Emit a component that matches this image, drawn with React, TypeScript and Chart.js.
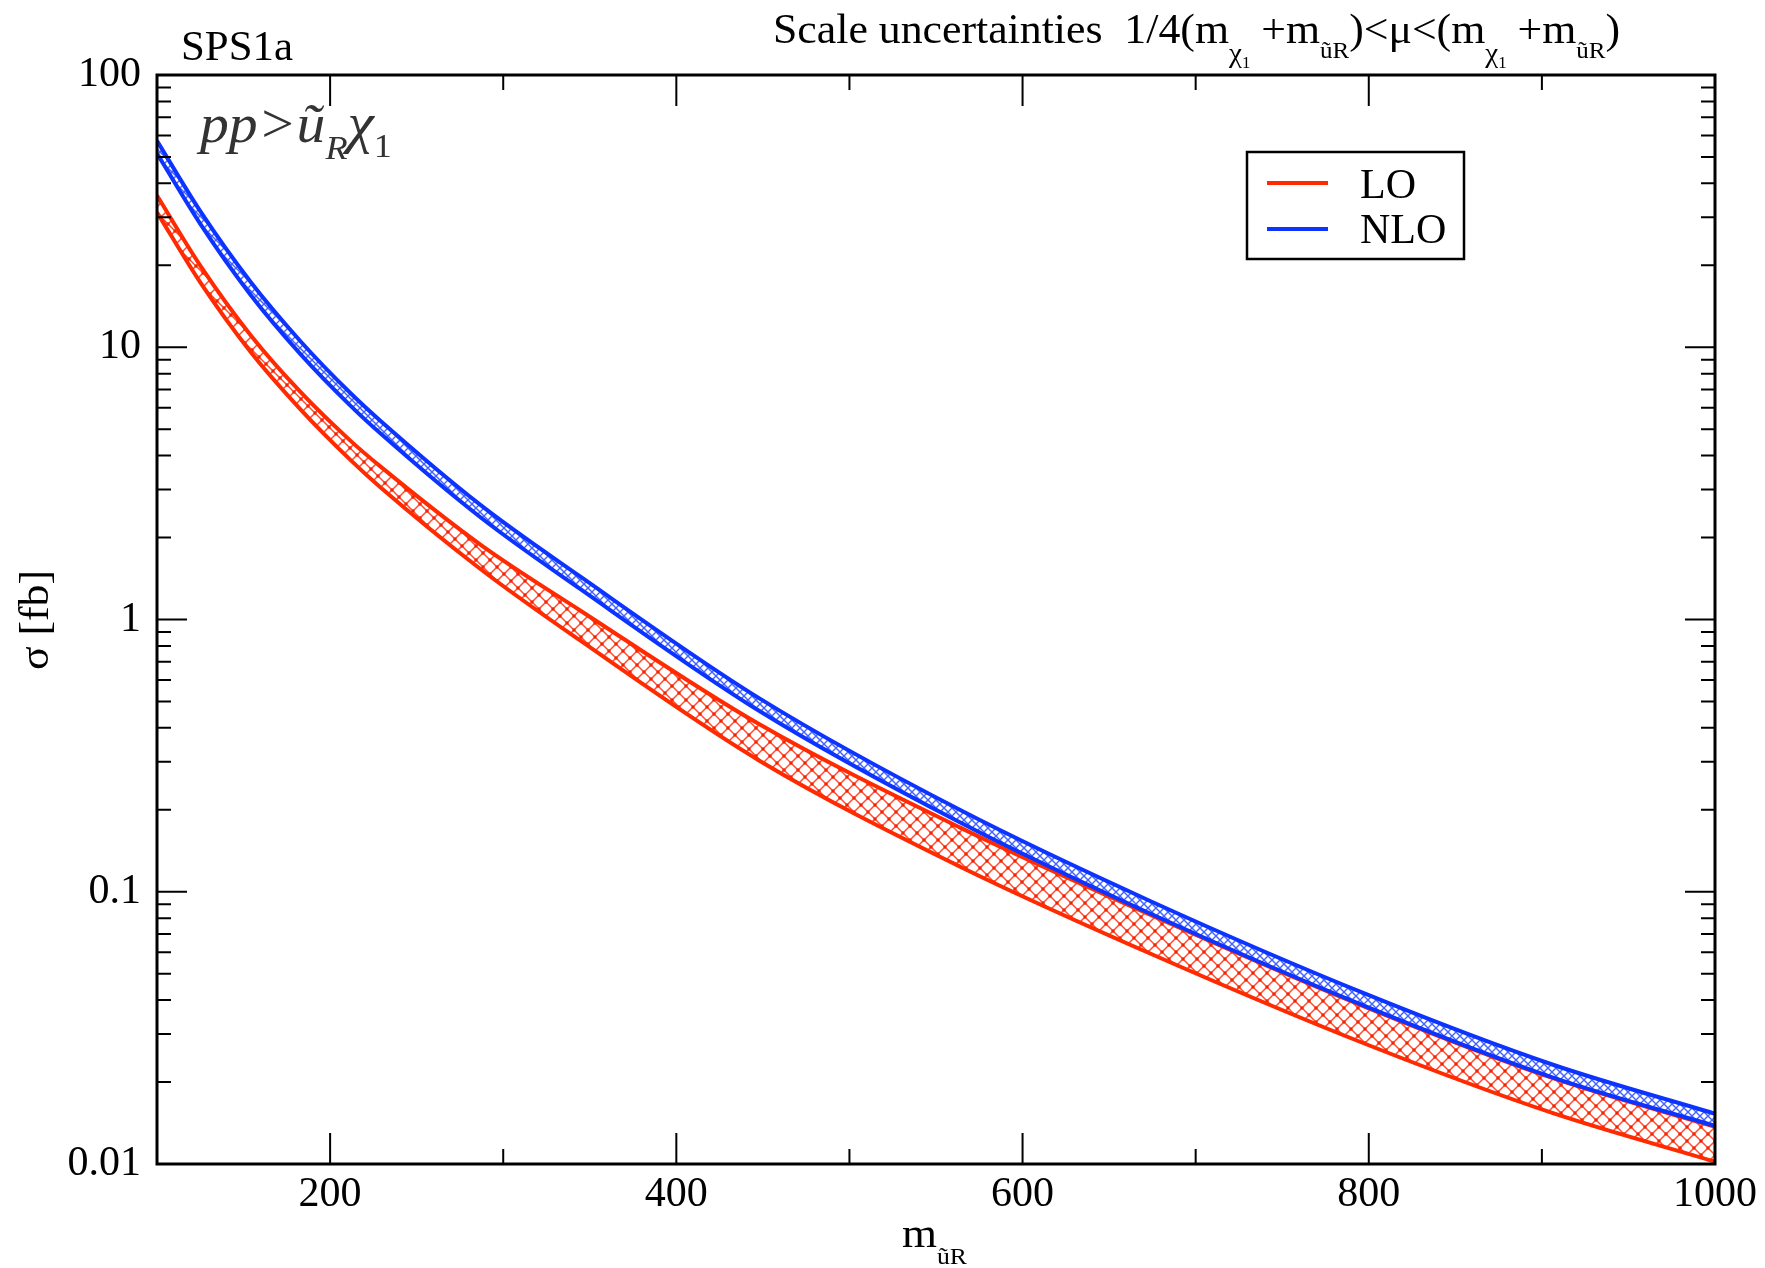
import React, { useEffect, useRef } from "react";
import { Chart, registerables } from "chart.js";

Chart.register(...registerables);

// ---- data ----
const massGeV = [100, 125, 154, 183, 212, 229, 287, 344, 448, 564, 674, 800, 906, 1000];
const nloUpper = [57.3, 31.6, 17.4, 10.5, 6.76, 5.37, 2.63, 1.445, 0.513, 0.1995, 0.0923, 0.0417, 0.0232, 0.0153];
const nloLower = [51.5, 28.4, 15.6, 9.42, 6.08, 4.83, 2.37, 1.3, 0.461, 0.1795, 0.083, 0.0375, 0.0208, 0.0138];
const loUpper = [36.1, 19.95, 11.1, 6.84, 4.52, 3.65, 1.88, 1.084, 0.412, 0.172, 0.0822, 0.0373, 0.0207, 0.0137];
const loLower = [31.3, 17.3, 9.62, 5.9, 3.84, 3.06, 1.53, 0.841, 0.303, 0.1236, 0.0592, 0.0273, 0.0154, 0.0102];

const xMajorTicks = [200, 400, 600, 800, 1000];
const xMinorTicks = [300, 500, 700, 900];
const yMajorTicks = [0.01, 0.1, 1, 10, 100];
const legendLabels = ["LO", "NLO"];

const RED = "#ff2a00";
const BLUE = "#0d33ff";
const FONT = "'Liberation Serif', 'Times New Roman', serif";

type Run = { t: string; size: number; dy?: number; italic?: boolean };

function drawRuns(
  ctx: CanvasRenderingContext2D,
  runs: Run[],
  x: number,
  y: number,
  targetW?: number,
  color = "#000"
) {
  const widths = runs.map((r) => {
    ctx.font = `${r.italic ? "italic " : ""}${r.size}px ${FONT}`;
    return ctx.measureText(r.t).width;
  });
  const total = widths.reduce((a, b) => a + b, 0);
  const sx = targetW ? targetW / total : 1;
  ctx.save();
  ctx.translate(x, y);
  ctx.scale(sx, 1);
  ctx.fillStyle = color;
  ctx.textAlign = "left";
  ctx.textBaseline = "alphabetic";
  let cx = 0;
  runs.forEach((r, i) => {
    ctx.font = `${r.italic ? "italic " : ""}${r.size}px ${FONT}`;
    ctx.fillText(r.t, cx, r.dy || 0);
    cx += widths[i];
  });
  ctx.restore();
}

function makeRedPattern(ctx: CanvasRenderingContext2D) {
  const s = 14;
  const c = document.createElement("canvas");
  c.width = s;
  c.height = s;
  const p = c.getContext("2d")!;
  p.strokeStyle = "rgba(255,45,10,0.85)";
  p.lineWidth = 1.5;
  p.beginPath();
  p.moveTo(0, 0);
  p.lineTo(s, s);
  p.moveTo(s, 0);
  p.lineTo(0, s);
  p.stroke();
  p.fillStyle = "rgba(240,35,5,1)";
  const dots = [
    [s / 2, s / 2],
    [0, 0],
    [s, 0],
    [0, s],
    [s, s],
  ];
  dots.forEach(([dx, dy]) => {
    p.beginPath();
    p.arc(dx, dy, 1.7, 0, Math.PI * 2);
    p.fill();
  });
  return ctx.createPattern(c, "repeat")!;
}

function makeBluePattern(ctx: CanvasRenderingContext2D) {
  const s = 8;
  const c = document.createElement("canvas");
  c.width = s;
  c.height = s;
  const p = c.getContext("2d")!;
  p.strokeStyle = "rgba(20,60,255,0.8)";
  p.lineWidth = 1.4;
  p.beginPath();
  p.moveTo(0, 0);
  p.lineTo(s, s);
  p.moveTo(s, 0);
  p.lineTo(0, s);
  p.stroke();
  return ctx.createPattern(c, "repeat")!;
}

const framePlugin = {
  id: "frameAndText",
  afterDraw(chart: any) {
    const ctx: CanvasRenderingContext2D = chart.ctx;
    const { left, right, top, bottom } = chart.chartArea;
    const xs = chart.scales.x;
    const ys = chart.scales.y;
    ctx.save();
    // frame
    ctx.strokeStyle = "#000";
    ctx.lineWidth = 3;
    ctx.strokeRect(left, top, right - left, bottom - top);
    // ticks
    ctx.lineWidth = 2;
    ctx.beginPath();
    xMajorTicks.forEach((v) => {
      const px = xs.getPixelForValue(v);
      if (px >= right - 1) return;
      ctx.moveTo(px, bottom);
      ctx.lineTo(px, bottom - 31);
      ctx.moveTo(px, top);
      ctx.lineTo(px, top + 31);
    });
    xMinorTicks.forEach((v) => {
      const px = xs.getPixelForValue(v);
      ctx.moveTo(px, bottom);
      ctx.lineTo(px, bottom - 15);
      ctx.moveTo(px, top);
      ctx.lineTo(px, top + 15);
    });
    for (let e = -2; e <= 1; e++) {
      for (let k = 1; k <= 9; k++) {
        const v = k * Math.pow(10, e);
        const py = ys.getPixelForValue(v);
        const len = k === 1 ? 30 : 14;
        if (k === 1 && e === -2) continue;
        ctx.moveTo(left, py);
        ctx.lineTo(left + len, py);
        ctx.moveTo(right, py);
        ctx.lineTo(right - len, py);
      }
    }
    ctx.stroke();

    // legend
    ctx.lineWidth = 2.5;
    ctx.strokeRect(1247, 152, 217, 107);
    ctx.lineWidth = 4;
    ctx.strokeStyle = RED;
    ctx.beginPath();
    ctx.moveTo(1267, 183);
    ctx.lineTo(1328, 183);
    ctx.stroke();
    ctx.strokeStyle = BLUE;
    ctx.beginPath();
    ctx.moveTo(1267, 229);
    ctx.lineTo(1328, 229);
    ctx.stroke();
    drawRuns(ctx, [{ t: legendLabels[0], size: 42 }], 1360, 198);
    drawRuns(ctx, [{ t: legendLabels[1], size: 42 }], 1360, 243);

    // texts
    drawRuns(ctx, [{ t: "SPS1a", size: 42 }], 181, 60, 112);
    drawRuns(
      ctx,
      [
        { t: "Scale uncertainties  1/4(m", size: 42 },
        { t: "χ", size: 28, dy: 19 },
        { t: "1", size: 16, dy: 25 },
        { t: " +m", size: 42 },
        { t: "ũR", size: 24, dy: 15 },
        { t: ")<μ<(m", size: 42 },
        { t: "χ", size: 28, dy: 19 },
        { t: "1", size: 16, dy: 25 },
        { t: " +m", size: 42 },
        { t: "ũR", size: 24, dy: 15 },
        { t: ")", size: 42 },
      ],
      773,
      43,
      847
    );
    drawRuns(
      ctx,
      [
        { t: "pp>ũ", size: 54, italic: true },
        { t: "R", size: 34, dy: 17, italic: true },
        { t: "χ", size: 56, italic: true },
        { t: "1", size: 34, dy: 15 },
      ],
      200,
      142,
      192,
      "#333"
    );
    drawRuns(
      ctx,
      [
        { t: "m", size: 42 },
        { t: "ũR", size: 24, dy: 17 },
      ],
      902,
      1247,
      65
    );
    // y axis title
    ctx.save();
    ctx.translate(48, 620);
    ctx.rotate(-Math.PI / 2);
    drawRuns(ctx, [{ t: "σ [fb]", size: 42 }], -50, 0, 100);
    ctx.restore();
    ctx.restore();
  },
};

export default function App() {
  const ref = useRef<HTMLCanvasElement | null>(null);
  useEffect(() => {
    const canvas = ref.current!;
    const ctx = canvas.getContext("2d")!;
    const redPat = makeRedPattern(ctx);
    const bluePat = makeBluePattern(ctx);
    const pts = (arr: number[]) => massGeV.map((m, i) => ({ x: m, y: arr[i] }));
    const common = {
      pointRadius: 0,
      borderWidth: 4,
      cubicInterpolationMode: "monotone" as const,
    };
    const chart = new Chart(canvas, {
      type: "line",
      data: {
        datasets: [
          { ...common, label: "NLO upper", data: pts(nloUpper), borderColor: BLUE, fill: false },
          { ...common, label: "NLO lower", data: pts(nloLower), borderColor: BLUE, fill: "-1", backgroundColor: bluePat as any },
          { ...common, label: "LO upper", data: pts(loUpper), borderColor: RED, fill: false },
          { ...common, label: "LO lower", data: pts(loLower), borderColor: RED, fill: "-1", backgroundColor: redPat as any },
        ],
      },
      options: {
        animation: false,
        responsive: false,
        devicePixelRatio: 1,
        layout: { padding: { top: 75, right: 50, left: 0, bottom: 0 } },
        plugins: { legend: { display: false }, tooltip: { enabled: false } },
        scales: {
          x: {
            type: "linear",
            min: 100,
            max: 1000,
            afterBuildTicks: (s: any) => {
              s.ticks = xMajorTicks.map((v) => ({ value: v }));
            },
            afterFit: (s: any) => {
              s.height = 104;
            },
            grid: { display: false, drawTicks: false },
            border: { display: false },
            ticks: {
              font: { family: FONT, size: 42 },
              color: "#000",
              padding: 6,
              maxRotation: 0,
              autoSkip: false,
              callback: (v: any) => String(v),
            },
          },
          y: {
            type: "logarithmic",
            min: 0.01,
            max: 100,
            afterBuildTicks: (s: any) => {
              s.ticks = yMajorTicks.map((v) => ({ value: v, major: true }));
            },
            afterFit: (s: any) => {
              s.width = 157;
            },
            grid: { display: false, drawTicks: false },
            border: { display: false },
            ticks: {
              font: { family: FONT, size: 42 },
              color: "#000",
              padding: 16,
              autoSkip: false,
              callback: (v: any) => String(v),
            },
          },
        },
      },
      plugins: [framePlugin],
    });
    return () => chart.destroy();
  }, []);
  return (
    <div style={{ position: "absolute", left: 0, top: 0, width: 1765, height: 1268, background: "#fff" }}>
      <canvas ref={ref} width={1765} height={1268} style={{ display: "block" }} />
    </div>
  );
}
